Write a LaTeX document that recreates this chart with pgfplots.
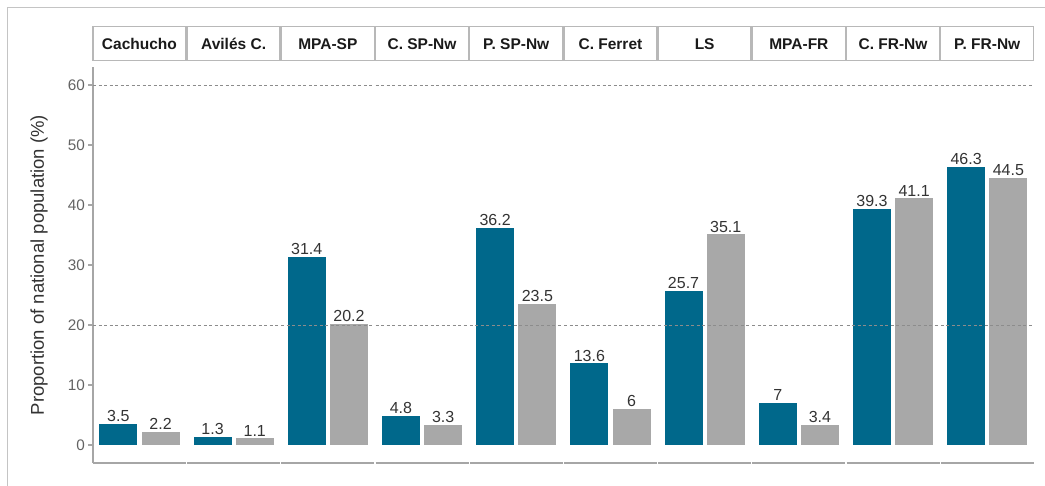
\documentclass[border=0pt]{standalone}
\usepackage{fontspec}
\setmainfont{Liberation Sans}
\usepackage{pgfplots}
\pgfplotsset{compat=1.18}

\definecolor{barteal}{HTML}{00688B}
\definecolor{bargray}{HTML}{A8A8A8}
\definecolor{axisgray}{HTML}{A6A6A6}
\definecolor{stripgray}{HTML}{B8B8B8}
\definecolor{framegray}{HTML}{C4C4C4}
\definecolor{refgray}{HTML}{8C8C8C}
\definecolor{tickgray}{HTML}{636363}
\definecolor{valtext}{HTML}{333333}
\definecolor{striptext}{HTML}{1A1A1A}

\pgfplotsset{
  facet/.style={
    scale only axis, width=92.9pt, height=396pt, anchor=south west,
    xmin=0.4, xmax=2.6, ymin=-3, ymax=63, clip=false,
    xtick=\empty, axis x line*=bottom,
    axis line style={-, draw=axisgray, line width=1.3pt},
    title style={at={(0.5,1)}, anchor=south, draw=stripgray, line width=1.3pt,
      fill=white, minimum width=92.9pt, minimum height=34pt, inner sep=0pt,
      text height=12pt, text depth=0pt,
      font=\fontsize{15.5}{18}\selectfont\bfseries, text=striptext},
  },
  facetbar/.style={ybar, bar width=0.9, bar shift=0pt, draw=none,
    nodes near coords, point meta=explicit symbolic,
    every node near coord/.append style={font=\fontsize{16}{18}\selectfont,
      text=valtext, anchor=south, inner sep=0pt, yshift=2pt}},
  tealbar/.style={facetbar, fill=barteal},
  graybar/.style={facetbar, fill=bargray},
  refline/.style={draw=refgray, line width=0.9pt, dash pattern=on 3pt off 2.5pt},
  inner/.style={axis y line=none, ytick=\empty},
}

\begin{document}
\begin{tikzpicture}
\useasboundingbox (0,0) rectangle (1045pt,486pt);
% frame around the figure
\draw[framegray, line width=1.6pt] (7.5pt,0) -- (7.5pt,478.5pt) -- (1045pt,478.5pt);

% Cachucho
\begin{axis}[facet, at={(93pt,23pt)}, title={Cachucho},
  axis y line*=left, ytick={0,10,20,30,40,50,60},
  tick align=outside, major tick length=4.5pt,
  tick style={draw=axisgray, line width=1.3pt},
  /pgf/number format/assume math mode=true,
  yticklabel style={font=\fontsize{15.3}{17}\selectfont, text=tickgray},
  ylabel={Proportion of national population (\%)},
  ylabel style={at={(axis description cs:-0.581,0.5)}, anchor=center,
    font=\fontsize{18.5}{20}\selectfont, text=valtext}]
\addplot[tealbar] coordinates {(1,3.5) [3.5]};
\addplot[graybar] coordinates {(2,2.2) [2.2]};
\addplot[refline] coordinates {(0.4,20) (2.6,20)};
\addplot[refline] coordinates {(0.4,60) (2.6,60)};
\end{axis}

% Aviles C.
\begin{axis}[facet, inner, at={(187.2pt,23pt)}, title={Avilés C.}]
\addplot[tealbar] coordinates {(1,1.3) [1.3]};
\addplot[graybar] coordinates {(2,1.1) [1.1]};
\addplot[refline] coordinates {(0.4,20) (2.6,20)};
\addplot[refline] coordinates {(0.4,60) (2.6,60)};
\end{axis}

% MPA-SP
\begin{axis}[facet, inner, at={(281.4pt,23pt)}, title={MPA-SP}]
\addplot[tealbar] coordinates {(1,31.4) [31.4]};
\addplot[graybar] coordinates {(2,20.2) [20.2]};
\addplot[refline] coordinates {(0.4,20) (2.6,20)};
\addplot[refline] coordinates {(0.4,60) (2.6,60)};
\end{axis}

% C. SP-Nw
\begin{axis}[facet, inner, at={(375.6pt,23pt)}, title={C. SP-Nw}]
\addplot[tealbar] coordinates {(1,4.8) [4.8]};
\addplot[graybar] coordinates {(2,3.3) [3.3]};
\addplot[refline] coordinates {(0.4,20) (2.6,20)};
\addplot[refline] coordinates {(0.4,60) (2.6,60)};
\end{axis}

% P. SP-Nw
\begin{axis}[facet, inner, at={(469.8pt,23pt)}, title={P. SP-Nw}]
\addplot[tealbar] coordinates {(1,36.2) [36.2]};
\addplot[graybar] coordinates {(2,23.5) [23.5]};
\addplot[refline] coordinates {(0.4,20) (2.6,20)};
\addplot[refline] coordinates {(0.4,60) (2.6,60)};
\end{axis}

% C. Ferret
\begin{axis}[facet, inner, at={(564pt,23pt)}, title={C. Ferret}]
\addplot[tealbar] coordinates {(1,13.6) [13.6]};
\addplot[graybar] coordinates {(2,6) [6]};
\addplot[refline] coordinates {(0.4,20) (2.6,20)};
\addplot[refline] coordinates {(0.4,60) (2.6,60)};
\end{axis}

% LS
\begin{axis}[facet, inner, at={(658.2pt,23pt)}, title={LS}]
\addplot[tealbar] coordinates {(1,25.7) [25.7]};
\addplot[graybar] coordinates {(2,35.1) [35.1]};
\addplot[refline] coordinates {(0.4,20) (2.6,20)};
\addplot[refline] coordinates {(0.4,60) (2.6,60)};
\end{axis}

% MPA-FR
\begin{axis}[facet, inner, at={(752.4pt,23pt)}, title={MPA-FR}]
\addplot[tealbar] coordinates {(1,7) [7]};
\addplot[graybar] coordinates {(2,3.4) [3.4]};
\addplot[refline] coordinates {(0.4,20) (2.6,20)};
\addplot[refline] coordinates {(0.4,60) (2.6,60)};
\end{axis}

% C. FR-Nw
\begin{axis}[facet, inner, at={(846.6pt,23pt)}, title={C. FR-Nw}]
\addplot[tealbar] coordinates {(1,39.3) [39.3]};
\addplot[graybar] coordinates {(2,41.1) [41.1]};
\addplot[refline] coordinates {(0.4,20) (2.6,20)};
\addplot[refline] coordinates {(0.4,60) (2.6,60)};
\end{axis}

% P. FR-Nw
\begin{axis}[facet, inner, at={(940.8pt,23pt)}, title={P. FR-Nw}]
\addplot[tealbar] coordinates {(1,46.3) [46.3]};
\addplot[graybar] coordinates {(2,44.5) [44.5]};
\addplot[refline] coordinates {(0.4,20) (2.6,20)};
\addplot[refline] coordinates {(0.4,60) (2.6,60)};
\end{axis}
\end{tikzpicture}
\end{document}
